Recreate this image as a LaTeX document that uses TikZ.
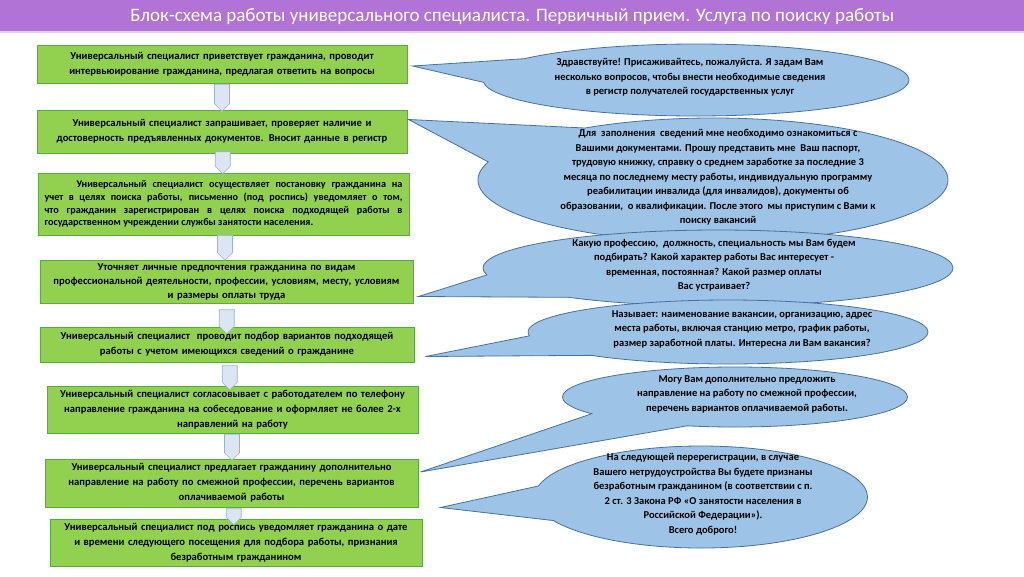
\documentclass[tikz,border=0pt]{standalone}
\usepackage{fontspec}
\setmainfont{Carlito}
\usetikzlibrary{shapes,arrows,positioning,calc}

\definecolor{titlepurple}{RGB}{177,116,214}
\definecolor{titleline}{RGB}{228,205,240}
\definecolor{boxgreen}{RGB}{146,208,80}
\definecolor{boxline}{RGB}{86,172,62}
\definecolor{talkblue}{RGB}{157,195,230}
\definecolor{talkline}{RGB}{72,112,160}
\definecolor{arrfill}{RGB}{220,230,242}
\definecolor{arrline}{RGB}{149,179,215}

\newcommand{\talktext}[2][0pt]{\makebox[0pt]{\hspace{#1}\hspace{#1}\smash{\parbox[c]{400pt}{\centering #2}}}}

\begin{document}
\begin{tikzpicture}[x=1pt, y=-1pt,
actbox/.style={draw=boxline, fill=boxgreen, line width=1pt, inner xsep=2pt, inner ysep=0pt,
  align=center, text width=364pt, font=\bfseries\fontsize{10.6}{15}\selectfont},
talk/.style={ellipse callout, draw=talkline, fill=talkblue, line width=0.8pt, inner sep=0pt,
  callout pointer arc=40, font=\bfseries\fontsize{10.5}{14.5}\selectfont},
downarr/.style={single arrow, single arrow head extend=0pt, single arrow tip angle=90,
  rotate=-90, draw=arrline, fill=arrfill, line width=0.6pt, minimum width=15pt, inner sep=0pt}]

\useasboundingbox (0,0) rectangle (1024,576);

% title
\node [fill=titlepurple, minimum width=1024pt, minimum height=32pt, inner sep=0pt, anchor=north west,
  text=white, font=\fontsize{19}{21}\selectfont] (title) at (0,0)
  {Блок-схема работы универсального специалиста. Первичный прием. Услуга по поиску работы};
\draw [titleline, line width=2pt] (title.south west) -- (title.south east);

% steps of the specialist
\node [actbox, minimum width=370pt, minimum height=38pt] (greet) at (222,64)
  {Универсальный специалист приветствует гражданина, проводит\\ интервьюирование гражданина, предлагая ответить на вопросы};
\node [actbox, minimum width=370pt, minimum height=43pt] (docs) at (222,131.5)
  {Универсальный специалист запрашивает, проверяет наличие и\\ достоверность предъявленных документов. Вносит данные в регистр};
\node [actbox, minimum width=371pt, minimum height=62pt, text width=358pt, align=justify,
  font=\bfseries\fontsize{10.2}{12.8}\selectfont] (register) at (223.5,204)
  {\hspace*{32pt}Универсальный специалист осуществляет постановку гражданина на\linebreak
   учет в целях поиска работы, письменно (под роспись) уведомляет о том,\linebreak
   что гражданин зарегистрирован в целях поиска подходящей работы в\linebreak
   государственном учреждении службы занятости населения.};
\node [actbox, minimum width=373pt, minimum height=43pt, font=\bfseries\fontsize{10.6}{14}\selectfont] (wishes) at (226.5,281.5)
  {Уточняет личные предпочтения гражданина по видам\\ профессиональной деятельности, профессии, условиям, месту, условиям\\ и размеры оплаты труда};
\node [actbox, minimum width=374pt, minimum height=35pt] (select) at (227,344.5)
  {Универсальный специалист\ \ проводит подбор вариантов подходящей\\ работы с учетом имеющихся сведений о гражданине};
\node [actbox, minimum width=371pt, minimum height=47pt] (agree) at (232.5,409.5)
  {Универсальный специалист согласовывает с работодателем по телефону\\ направление гражданина на собеседование и оформляет не более 2-х\\ направлений на работу};
\node [actbox, minimum width=373pt, minimum height=48pt] (offer) at (231.5,483)
  {Универсальный специалист предлагает гражданину дополнительно\\ направление на работу по смежной профессии, перечень вариантов\\ оплачиваемой работы};
\node [actbox, minimum width=372pt, minimum height=47pt] (notify) at (236,542.5)
  {Универсальный специалист под роспись уведомляет гражданина о дате\\ и времени следующего посещения для подбора работы, признания\\ безработным гражданином};

% block arrows between the steps
\node [downarr, minimum height=27pt, xshift=-2.5pt] (a1) at ($(greet.south)!0.5!(docs.north)$) {};
\node [downarr, minimum height=22pt, xshift=-4pt] (a2) at ($(docs.south)!0.5!(register.north)$) {};
\node [downarr, minimum height=25pt, xshift=-3.5pt] (a3) at ($(register.south)!0.5!(wishes.north)$) {};
\node [downarr, minimum height=24pt, xshift=3pt] (a4) at ($(wishes.south)!0.5!(select.north)$) {};
\node [downarr, minimum height=24pt] (a5) at ($(select.south)!0.5!(agree.north)$) {};
\node [downarr, minimum height=26pt, xshift=-2.5pt] (a6) at ($(agree.south)!0.5!(offer.north)$) {};
\node [downarr, minimum height=16pt] (a7) at ($(offer.south)!0.5!(notify.north)$) {};

% where the speech bubbles point
\coordinate (tip1) at ($(greet.east)+(5,2)$);
\coordinate (tip2) at ($(docs.north east)+(1,10)$);
\coordinate (tip3) at ($(wishes.south east)+(5,-7)$);
\coordinate (tip4) at ($(select.south east)+(11,-6)$);
\coordinate (tip5) at ($(offer.east)+(2,-11)$);
\coordinate (tip6) at ($(offer.south east)+(22,0)$);

% what the specialist says
\node [talk, minimum width=426pt, minimum height=72pt, callout absolute pointer=(tip1)] (hello) at (696,80)
  {\talktext[-6pt]{Здравствуйте! Присаживайтесь, пожалуйста. Я задам Вам\\ несколько вопросов, чтобы внести необходимые сведения\\ в регистр получателей государственных услуг}};
\node [talk, minimum width=470pt, minimum height=124pt, callout absolute pointer=(tip2)] (papers) at (713,180)
  {\talktext[5pt]{Для\ \ заполнения\ \ сведений мне необходимо ознакомиться с\\ Вашими документами. Прошу представить мне\ \ Ваш паспорт,\\ трудовую книжку, справку о среднем заработке за последние 3\\ месяца по последнему месту работы, индивидуальную программу\\ реабилитации инвалида (для инвалидов), документы об\\ образовании,\ \ о квалификации. После этого\ \ мы приступим с Вами к\\ поиску вакансий}};
\node [talk, minimum width=470pt, minimum height=76pt, callout absolute pointer=(tip3)] (askjob) at (718,268)
  {\talktext[-4pt]{Какую профессию,\ \ должность, специальность мы Вам будем\\ подбирать? Какой характер работы Вас интересует -\\ временная, постоянная? Какой размер оплаты\\ Вас устраивает?}};
\node [talk, minimum width=400pt, minimum height=64pt, callout absolute pointer=(tip4)] (vacancy) at (728,332)
  {\talktext[14pt]{Называет: наименование вакансии, организацию, адрес\\ места работы, включая станцию метро, график работы,\\ размер заработной платы. Интересна ли Вам вакансия?}};
\node [talk, minimum width=345pt, minimum height=60pt, callout absolute pointer=(tip5)] (extra) at (735,397)
  {\talktext[12pt]{Могу Вам дополнительно предложить\\ направление на работу по смежной профессии,\\ перечень вариантов оплачиваемой работы.}};
\node [talk, minimum width=333pt, minimum height=102pt, callout absolute pointer=(tip6)] (bye) at (701,497)
  {\talktext[2pt]{На следующей перерегистрации, в случае\\ Вашего нетрудоустройства Вы будете признаны\\ безработным гражданином (в соответствии с п.\\ 2 ст. 3 Закона РФ «О занятости населения в\\ Российской Федерации»).\\ Всего доброго!}};

\end{tikzpicture}
\end{document}
